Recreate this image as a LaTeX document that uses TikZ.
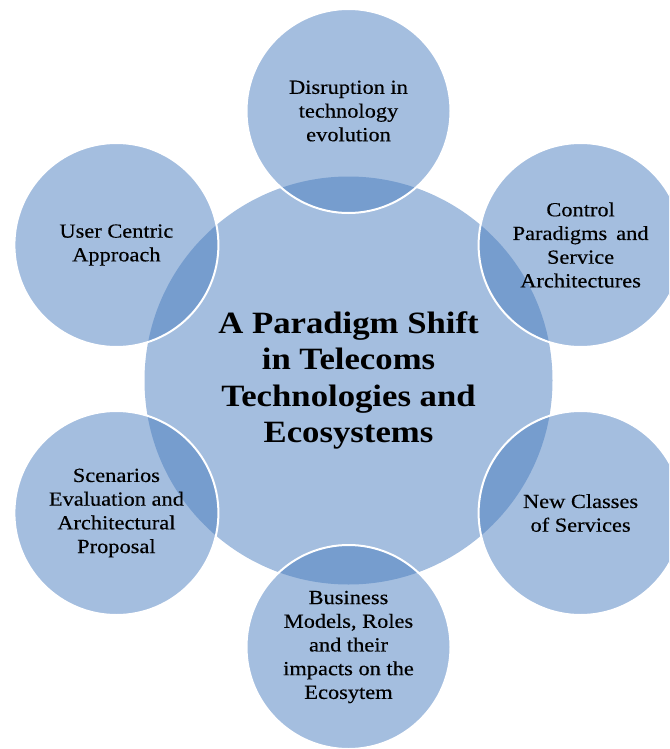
\documentclass[tikz,border=0pt]{standalone}
\usepackage{fontspec}
\setmainfont{Liberation Serif}[FakeStretch=1.12]
\newfontfamily\satfont{Liberation Serif}[FakeStretch=1.12, FakeBold=0.35]
\definecolor{hubblue}{RGB}{164,190,223}
\definecolor{satblue}{RGB}{73,125,191}
\tikzset{
  hub/.style={circle, fill=hubblue, draw=none, minimum size=408pt, inner sep=0pt,
    align=center, font=\bfseries\fontsize{31}{36.3}\selectfont, text=black},
  sat/.style={circle, fill=satblue, fill opacity=0.5, text opacity=1, draw=white,
    line width=2pt, minimum size=204pt, inner sep=0pt,
    align=center, font=\satfont\fontsize{20}{23.7}\selectfont, text=black}
}
\begin{document}
\begin{tikzpicture}[x=1pt,y=-1pt]
\useasboundingbox (0,0) rectangle (669,749);
\clip (0,0) rectangle (669,749);
\node[hub] (hub) at (348.5,380.5) {A Paradigm Shift\\in Telecoms\\Technologies and\\Ecosystems};
\node[sat] (top) at (348.5,111) {Disruption in\\technology\\evolution};
\node[sat] (ur) at (580.6,245) {Control\\Paradigms\hskip0.45em and\\Service\\Architectures};
\node[sat] (lr) at (580.6,513) {New Classes\\of Services};
\node[sat] (bot) at (348.5,647) {Business\\Models, Roles\\and their\\impacts on the\\Ecosytem};
\node[sat] (ll) at (116.4,513) {Scenarios\\Evaluation and\\Architectural\\Proposal};
\node[sat] (ul) at (116.4,245) {User Centric\\Approach};
\end{tikzpicture}
\end{document}
